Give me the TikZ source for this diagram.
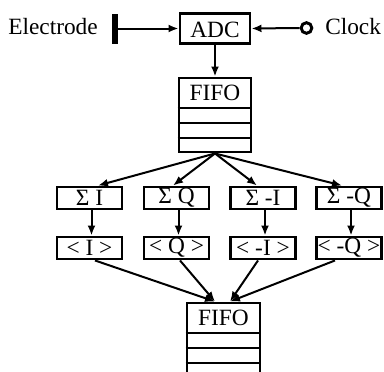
\documentclass[tikz,border=0pt]{standalone}
\usepackage{fontspec}
\setmainfont{Liberation Serif}
\usetikzlibrary{arrows.meta,calc}
\begin{document}
\begin{tikzpicture}[x=0.75pt,y=-0.75pt,
  box/.style={draw,line width=2.2pt,inner sep=0pt,font=\fontsize{17.5}{19}\selectfont},
  lbl/.style={inner sep=0pt,font=\fontsize{17.5}{19}\selectfont},
  conn/.style={line width=1.5pt,-{Latex[length=7.5pt,width=6pt]}},
  rowline/.style={line width=2pt}]
\clip (0,0) rectangle (384,371);
\useasboundingbox (0,0) rectangle (384,371);
% top row
\node[lbl,anchor=east] (electrode) at (98,27) {Electrode};
\node[fill=black,minimum width=4.5pt,minimum height=22.5pt,inner sep=0pt] (el) at (115,28.5) {};
\node[box,minimum width=52.5pt,minimum height=22.5pt,text depth=0pt] (adc) at (215,28.5) {\raisebox{-2.5pt}{ADC}};
\node[draw,circle,line width=2.2pt,minimum size=8pt,inner sep=0pt] (clk) at (306.5,28) {};
\node[lbl,anchor=west] (clock) at (325,27) {Clock};
\draw[conn] (el.east) -- (adc.west);
\draw[conn] (clk.west) -- (adc.east);
% FIFO 1
\node[box,minimum width=54pt,minimum height=55.5pt] (f1) at (215,115) {};
\node[lbl] (f1t) at (215,93) {FIFO};
\draw[rowline] (f1.west |- 0,108) coordinate (f1a) -- (f1.east |- 0,108) coordinate (f1b);
\draw[rowline] (f1.west |- 0,123) coordinate (f1c) -- (f1.east |- 0,123) coordinate (f1d);
\draw[rowline] (f1.west |- 0,138) coordinate (f1e) -- (f1.east |- 0,138) coordinate (f1f);
\draw[conn] (adc.south) -- (f1.north);
% sigma boxes
\foreach \n/\x/\t in {1/89.5/{Σ I},2/176.5/{Σ Q},3/263/{Σ -I},4/349/{Σ -Q}}{
  \node[box,minimum width=48.75pt,minimum height=16.5pt] (s\n) at (\x,198) {\t};
}
\foreach \n/\x/\t in {1/89.5/{< I >},2/176.5/{< Q >},3/263/{< -I >},4/349/{< -Q >}}{
  \node[box,minimum width=48.75pt,minimum height=16.5pt] (m\n) at (\x,248) {\t};
}
\draw[conn] (f1.south) -- ($(s1.north)+(8.5,0)$);
\draw[conn] (f1.south) -- ($(s2.north)+(-3.5,0)$);
\draw[conn] (f1.south) -- ($(s3.north)+(-6,0)$);
\draw[conn] (f1.south) -- ($(s4.north)+(-7,0)$);
\foreach \n in {1,2,3,4}{
  \draw[conn] ($(s\n.south)+(2,0)$) -- ($(m\n.north)+(2,0)$);
}
% FIFO 2
\node[box,minimum width=54.75pt,minimum height=56.25pt] (f2) at (223.5,340.5) {};
\node[lbl] (f2t) at (223.5,318) {FIFO};
\draw[rowline] (f2.west |- 0,333) coordinate (f2a) -- (f2.east |- 0,333) coordinate (f2b);
\draw[rowline] (f2.west |- 0,348) coordinate (f2c) -- (f2.east |- 0,348) coordinate (f2d);
\draw[rowline] (f2.west |- 0,363) coordinate (f2e) -- (f2.east |- 0,363) coordinate (f2f);
\draw[conn] ($(m1.south)+(5.5,0)$) -- ($(f2.north)+(-8.5,0)$);
\draw[conn] ($(m2.south)+(3.5,0)$) -- ($(f2.north)+(-8.5,0)$);
\draw[conn] ($(m3.south)+(-5,0)$) -- ($(f2.north)+(6.5,0)$);
\draw[conn] ($(m4.south)+(-14,0)$) -- ($(f2.north)+(6.5,0)$);
\end{tikzpicture}
\end{document}
